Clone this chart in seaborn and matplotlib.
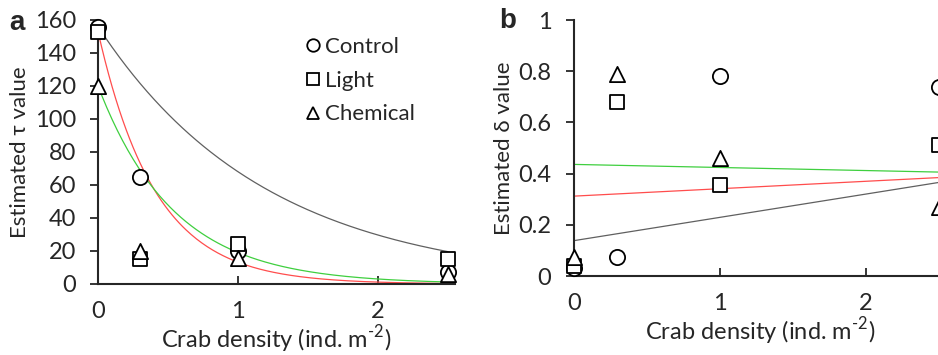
import numpy as np
import pandas as pd
import matplotlib
matplotlib.use("Agg")
import matplotlib.pyplot as plt
from matplotlib.lines import Line2D
import seaborn as sns

# ---- data ----
density = [0, 0.3, 1, 2.5]
treatments = ["Control", "Light", "Chemical"]

tau_control = [156, 65, 20, 7]
tau_light = [153, 15, 24, 15]
tau_chemical = [120, 20, 16, 6]

delta_control = [0.03, 0.075, 0.78, 0.74]
delta_light = [0.04, 0.68, 0.355, 0.51]
delta_chemical = [0.075, 0.79, 0.46, 0.27]

# fitted model lines: tau = a * exp(-k * d), delta = b0 + b1 * d
tau_fit_a = {"Control": 156, "Light": 153, "Chemical": 120}
tau_fit_k = {"Control": 0.83, "Light": 2.45, "Chemical": 1.84}
delta_fit_b0 = {"Control": 0.138, "Light": 0.312, "Chemical": 0.436}
delta_fit_b1 = {"Control": 0.091, "Light": 0.029, "Chemical": -0.012}

line_colors = {"Control": "#606060", "Light": "#ff4d4d", "Chemical": "#3fcf3f"}
markers = {"Control": "o", "Light": "s", "Chemical": "^"}
sizes = {"Control": 120, "Light": 110, "Chemical": 120}

sns.set_style("ticks")
plt.rcParams["font.family"] = ["Lato", "DejaVu Sans"]
plt.rcParams["mathtext.fontset"] = "custom"
plt.rcParams["mathtext.rm"] = "Lato"

pts = pd.DataFrame({
    "density": density * 3,
    "treatment": np.repeat(treatments, len(density)),
    "tau": tau_control + tau_light + tau_chemical,
    "delta": delta_control + delta_light + delta_chemical,
})

xs = np.linspace(0, 2.5, 200)
curve_rows = []
for t in treatments:
    for x in xs:
        curve_rows.append({
            "density": x, "treatment": t,
            "tau": tau_fit_a[t] * np.exp(-tau_fit_k[t] * x),
            "delta": delta_fit_b0[t] + delta_fit_b1[t] * x,
        })
curves = pd.DataFrame(curve_rows)

fig = plt.figure(figsize=(9.38, 3.55), dpi=100)
ax_a = fig.add_axes([0.1045, 0.2, 0.3806, 0.7437])
ax_b = fig.add_axes([0.6116, 0.2225, 0.397, 0.7211])

fs = 17


def draw_panel(ax, col, ylim, yticks, ylabel):
    for t in ["Control", "Light", "Chemical"]:
        sub = curves[curves["treatment"] == t]
        sns.lineplot(data=sub, x="density", y=col, color=line_colors[t],
                     linewidth=0.9, ax=ax, zorder=2)
    for t in treatments:
        sub = pts[pts["treatment"] == t]
        sns.scatterplot(data=sub, x="density", y=col, marker=markers[t],
                        s=sizes[t], color="white", edgecolor="black",
                        linewidth=1.3, ax=ax, zorder=3, clip_on=False)
    ax.set_xlim(0, 2.55)
    ax.set_ylim(*ylim)
    ax.set_xticks([0, 1, 2])
    ax.set_yticks(yticks)
    ax.tick_params(axis="x", direction="in", length=6, width=1.3,
                   pad=12, labelsize=fs)
    ax.tick_params(axis="y", direction="out", length=6, width=1.3,
                   pad=10, labelsize=fs)
    for side in ["top", "right"]:
        ax.spines[side].set_visible(False)
    for side in ["left", "bottom"]:
        ax.spines[side].set_linewidth(1.5)
    ax.set_xlabel(r"Crab density (ind. m$^{\text{-2}}$)", fontsize=fs, labelpad=1)
    ax.set_ylabel(ylabel, fontsize=16, labelpad=3)


draw_panel(ax_a, "tau", (0, 160), range(0, 161, 20), "Estimated τ value")
draw_panel(ax_b, "delta", (0, 1), [0, 0.2, 0.4, 0.6, 0.8, 1],
           "Estimated δ value")
ax_b.set_yticklabels(["0", "0.2", "0.4", "0.6", "0.8", "1"])

handles = [Line2D([], [], linestyle="none", marker=markers[t], markersize=9,
                  markerfacecolor="white", markeredgecolor="black",
                  markeredgewidth=1.3) for t in treatments]
ax_a.legend(handles, treatments, loc="upper left", bbox_to_anchor=(0.545, 0.97),
            frameon=False, fontsize=16, handletextpad=0.05, handlelength=1.0,
            labelspacing=0.62, borderaxespad=0)

fig.text(0.010, 0.915, "a", fontsize=20, fontweight="bold",
         family="Liberation Sans")
fig.text(0.532, 0.92, "b", fontsize=20, fontweight="bold",
         family="Liberation Sans")

fig.savefig("out.png", dpi=100)
